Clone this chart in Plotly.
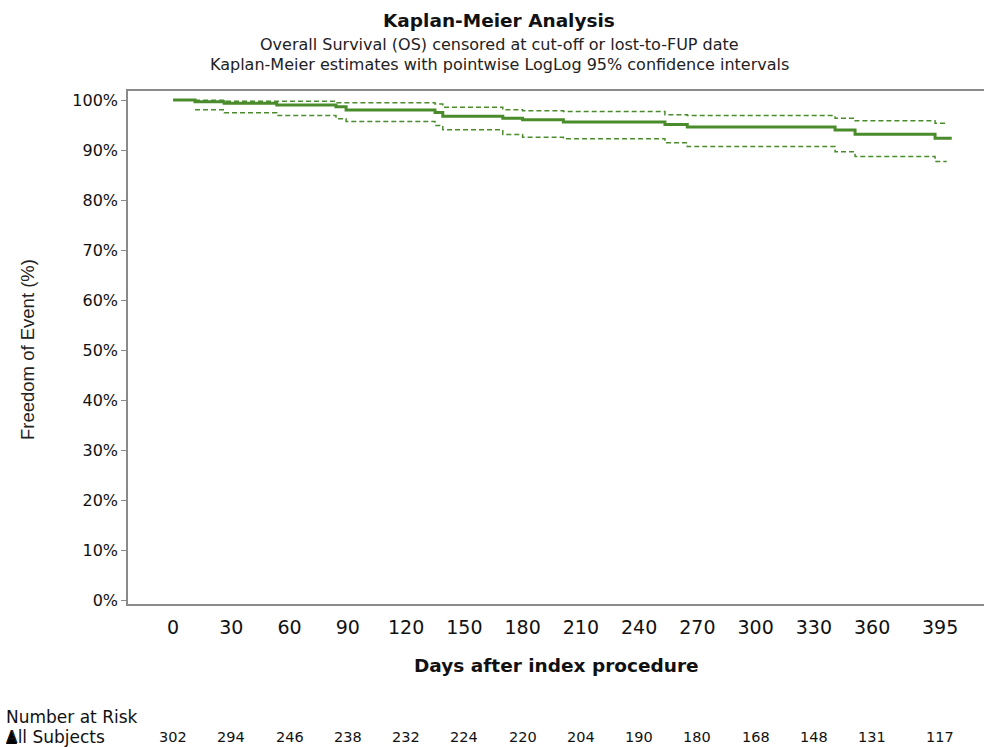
import plotly.graph_objects as go

# ---- data ----
km_days = [0, 11.3, 26.3, 53.4, 83.9, 89.1, 134.9, 138.9, 169.8, 180, 201, 253.3, 264.8, 340.9, 351.2, 392.4, 401]
km_surv = [100, 99.67, 99.34, 99.0, 98.67, 98.0, 97.5, 96.75, 96.35, 96.05, 95.6, 95.1, 94.6, 94.0, 93.15, 92.35, 92.35]

ci_days = [11.3, 26.3, 53.4, 83.9, 89.1, 134.9, 138.9, 169.8, 180, 201, 253.3, 264.8, 340.9, 351.2, 392.4, 398.4]
ci_upper = [99.96, 99.76, 99.76, 99.44, 99.44, 99.2, 98.56, 98.04, 97.84, 97.7, 97.04, 96.9, 96.36, 95.84, 95.36, 95.36]
ci_lower = [98.04, 97.44, 96.9, 96.24, 95.7, 94.9, 94.04, 93.1, 92.56, 92.24, 91.44, 90.7, 89.64, 88.7, 87.7, 87.7]

x_ticks = [0, 30, 60, 90, 120, 150, 180, 210, 240, 270, 300, 330, 360, 395]
y_ticks = [0, 10, 20, 30, 40, 50, 60, 70, 80, 90, 100]
y_tick_labels = [f"{v}%" for v in y_ticks]
risk_days = [0, 30, 60, 90, 120, 150, 180, 210, 240, 270, 300, 330, 360, 395]
risk_counts = [302, 294, 246, 238, 232, 224, 220, 204, 190, 180, 168, 148, 131, 117]

title = "Kaplan-Meier Analysis"
subtitle1 = "Overall Survival (OS) censored at cut-off or lost-to-FUP date"
subtitle2 = "Kaplan-Meier estimates with pointwise LogLog 95% confidence intervals"

GREEN = "#4a8c2c"
FONT = "Verdana, DejaVu Sans, sans-serif"
AXIS = "#8a8a8a"

fig = go.Figure()
fig.add_trace(go.Scatter(x=ci_days, y=ci_upper, mode="lines", line_shape="hv",
                         line=dict(color=GREEN, width=1.5, dash="5px,3px"), hoverinfo="skip", showlegend=False))
fig.add_trace(go.Scatter(x=ci_days, y=ci_lower, mode="lines", line_shape="hv",
                         line=dict(color=GREEN, width=1.5, dash="5px,3px"), hoverinfo="skip", showlegend=False))
fig.add_trace(go.Scatter(x=km_days, y=km_surv, mode="lines", line_shape="hv",
                         line=dict(color=GREEN, width=3), showlegend=False))

W, H = 984, 747
L, R, T, B = 128, 0, 91, 143
plot_h = H - T - B
plot_w = W - L - R

def py(ypx):
    return (H - B - ypx) / plot_h

def px(xpx):
    return (xpx - L) / plot_w

anns = []
anns.append(dict(text=f"<b>{title}</b>", x=px(499), y=py(20), xref="paper", yref="paper",
                 showarrow=False, font=dict(size=18.5, family=FONT, color="#111"), xanchor="center", yanchor="middle"))
anns.append(dict(text=subtitle1, x=px(499), y=py(44), xref="paper", yref="paper",
                 showarrow=False, font=dict(size=16, family=FONT, color="#222"), xanchor="center", yanchor="middle"))
anns.append(dict(text=subtitle2, x=px(499), y=py(65), xref="paper", yref="paper",
                 showarrow=False, font=dict(size=16, family=FONT, color="#222"), xanchor="center", yanchor="middle"))
anns.append(dict(text="<b>Days after index procedure</b>", x=px(556), y=py(666), xref="paper", yref="paper",
                 showarrow=False, font=dict(size=18.5, family=FONT, color="#111"), xanchor="center", yanchor="middle"))
anns.append(dict(text="Freedom of Event (%)", x=px(27), y=py(350), xref="paper", yref="paper", textangle=-90,
                 showarrow=False, font=dict(size=18.5, family="Liberation Sans, Arial, sans-serif", color="#222"),
                 xanchor="center", yanchor="middle"))
anns.append(dict(text="Number at Risk", x=px(4), y=py(717), xref="paper", yref="paper",
                 showarrow=False, font=dict(size=17, family=FONT, color="#111"), xanchor="left", yanchor="middle"))
anns.append(dict(text="All Subjects", x=px(4), y=py(737), xref="paper", yref="paper",
                 showarrow=False, font=dict(size=17, family=FONT, color="#111"), xanchor="left", yanchor="middle"))
for d, c in zip(risk_days, risk_counts):
    anns.append(dict(text=str(c), x=d, y=py(737), xref="x", yref="paper",
                     showarrow=False, font=dict(size=14.5, family=FONT, color="#111"), xanchor="center", yanchor="middle"))

# legend symbol (filled triangle over the "A" of "All Subjects")
tri = f"M {px(6)},{py(744)} L {px(11.5)},{py(730)} L {px(17)},{py(744)} Z"
shapes = [dict(type="path", path=tri, xref="paper", yref="paper", fillcolor="#000", line=dict(width=0))]

fig.update_layout(
    width=W, height=H,
    margin=dict(l=L, r=R, t=T, b=B),
    paper_bgcolor="white", plot_bgcolor="white",
    annotations=anns,
    shapes=shapes,
    showlegend=False,
)
fig.update_xaxes(range=[-23.2, 417.6], tickvals=x_ticks, ticktext=[str(v) for v in x_ticks],
                 showgrid=False, zeroline=False, showline=True, mirror=True, linecolor=AXIS, linewidth=1.5,
                 ticks="", tickfont=dict(size=19, family=FONT, color="#111"), ticklabelstandoff=5)
fig.update_yaxes(range=[-0.8, 101.8], tickvals=y_ticks, ticktext=y_tick_labels,
                 showgrid=False, zeroline=False, showline=True, mirror=False, linecolor=AXIS, linewidth=1.5,
                 ticks="outside", ticklen=5, tickcolor=AXIS, tickwidth=1,
                 tickfont=dict(size=16, family=FONT, color="#111"))

fig.write_html("out.html", config={"displayModeBar": False},
               post_script="document.body.style.margin='0';document.body.style.overflow='hidden';")
